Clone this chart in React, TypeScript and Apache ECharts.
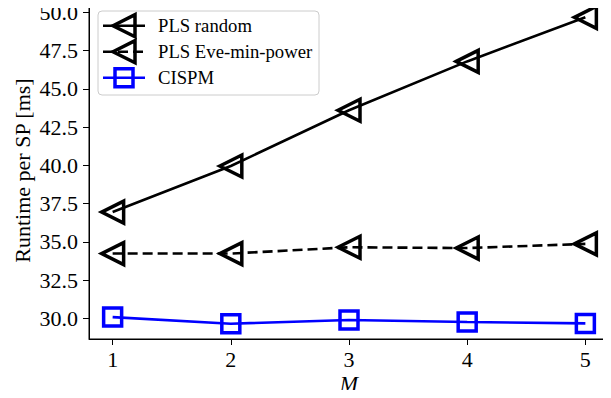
import React, { useEffect, useRef } from "react";
import * as echarts from "echarts";

const mValues = [1, 2, 3, 4, 5];
const plsRandom = [36.95, 39.96, 43.6, 46.79, 49.67];
const plsEve = [34.24, 34.24, 34.65, 34.6, 34.87];
const cispm = [30.09, 29.66, 29.9, 29.77, 29.68];
const yTicks = [30, 32.5, 35, 37.5, 40, 42.5, 45, 47.5, 50];
const xTicks = [1, 2, 3, 4, 5];
const seriesNames = ["PLS random", "PLS Eve-min-power", "CISPM"];

const FONT = "'Liberation Serif', 'Times New Roman', serif";
const TRI_LEFT = "path://M0,10 L20,0 L20,20 Z";
const AX_FS = 22;
const LEG_FS = 18.7;

function legendGraphic() {
  const boxX = 98, boxY = 11, boxW = 221, boxH = 84;
  const rowY = [25.7, 51.7, 77.7];
  const lx0 = 103, lx1 = 145, mx = 124, tx = 158;
  const els: any[] = [
    {
      type: "rect",
      shape: { x: boxX, y: boxY, width: boxW, height: boxH, r: 4 },
      style: { fill: "rgba(255,255,255,0.9)", stroke: "#cccccc", lineWidth: 1 },
      z: 10,
    },
  ];
  const colors = ["#000", "#000", "#0000ff"];
  const dashes: any[] = [null, [10, 5], null];
  rowY.forEach((y, i) => {
    els.push({
      type: "line",
      shape: { x1: lx0, y1: y, x2: lx1, y2: y },
      style: { stroke: colors[i], lineWidth: 2.6, lineDash: dashes[i] },
      z: 11,
    });
    if (i < 2) {
      els.push({
        type: "polygon",
        shape: { points: [[mx - 11, y], [mx + 11, y - 11], [mx + 11, y + 11]] },
        style: { fill: "none", stroke: colors[i], lineWidth: 3.5 },
        z: 12,
      });
    } else {
      els.push({
        type: "rect",
        shape: { x: mx - 9, y: y - 9, width: 18, height: 18 },
        style: { fill: "none", stroke: colors[i], lineWidth: 3.5 },
        z: 12,
      });
    }
    els.push({
      type: "text",
      x: tx,
      y,
      style: {
        text: seriesNames[i],
        fill: "#000",
        font: `${LEG_FS}px ${FONT}`,
        verticalAlign: "middle",
        align: "left",
      },
      z: 12,
    });
  });
  return els;
}

export default function App() {
  const ref = useRef<HTMLDivElement>(null);
  useEffect(() => {
    if (!ref.current) return;
    const chart = echarts.init(ref.current, undefined, { renderer: "svg" });
    const pair = (ys: number[]) => mValues.map((x, i) => [x, ys[i]]);
    chart.setOption({
      animation: false,
      backgroundColor: "#fff",
      textStyle: { fontFamily: FONT },
      grid: {
        left: 89,
        right: 2,
        top: 2,
        bottom: 59,
        containLabel: false,
        outerBoundsMode: "none",
        show: true,
        borderColor: "#000",
        borderWidth: 1,
      },
      graphic: legendGraphic(),
      xAxis: {
        type: "value",
        min: 0.8,
        max: 5.2,
        name: "M",
        nameLocation: "middle",
        nameGap: 33,
        nameMoveOverlap: false,
        nameTextStyle: { fontFamily: FONT, fontSize: AX_FS, fontStyle: "italic", color: "#000" },
        axisLine: { show: true, lineStyle: { color: "#000", width: 1 } },
        axisTick: { show: true, customValues: xTicks, length: 6, lineStyle: { color: "#000" } },
        axisLabel: {
          customValues: xTicks,
          margin: 9,
          fontFamily: FONT,
          fontSize: AX_FS,
          color: "#000",
        },
        splitLine: { show: false },
      },
      yAxis: {
        type: "value",
        min: 28.66,
        max: 50.67,
        name: "Runtime per SP [ms]",
        nameLocation: "middle",
        nameGap: 56,
        nameMoveOverlap: false,
        nameTextStyle: { fontFamily: FONT, fontSize: AX_FS, color: "#000" },
        axisLine: { show: true, lineStyle: { color: "#000", width: 1 } },
        axisTick: { show: true, customValues: yTicks, length: 6, lineStyle: { color: "#000" } },
        axisLabel: {
          customValues: yTicks,
          margin: 11,
          fontFamily: FONT,
          fontSize: AX_FS,
          color: "#000",
          formatter: (v: number) => v.toFixed(1),
        },
        splitLine: { show: false },
      },
      series: [
        {
          name: seriesNames[0],
          type: "line",
          data: pair(plsRandom),
          symbol: TRI_LEFT,
          symbolSize: 22,
          showAllSymbol: true,
          lineStyle: { color: "#000", width: 2.6 },
          itemStyle: { color: "none", borderColor: "#000", borderWidth: 3.5 },
          z: 3,
        },
        {
          name: seriesNames[1],
          type: "line",
          data: pair(plsEve),
          symbol: TRI_LEFT,
          symbolSize: 22,
          showAllSymbol: true,
          lineStyle: { color: "#000", width: 2.6, type: [10, 5] },
          itemStyle: { color: "none", borderColor: "#000", borderWidth: 3.5 },
          z: 3,
        },
        {
          name: seriesNames[2],
          type: "line",
          data: pair(cispm),
          symbol: "rect",
          symbolSize: 18,
          showAllSymbol: true,
          lineStyle: { color: "#0000ff", width: 2.6 },
          itemStyle: { color: "none", borderColor: "#0000ff", borderWidth: 3.5 },
          z: 3,
        },
      ],
    });
    return () => chart.dispose();
  }, []);
  return <div ref={ref} style={{ width: 611, height: 398, margin: -8 }} />;
}
